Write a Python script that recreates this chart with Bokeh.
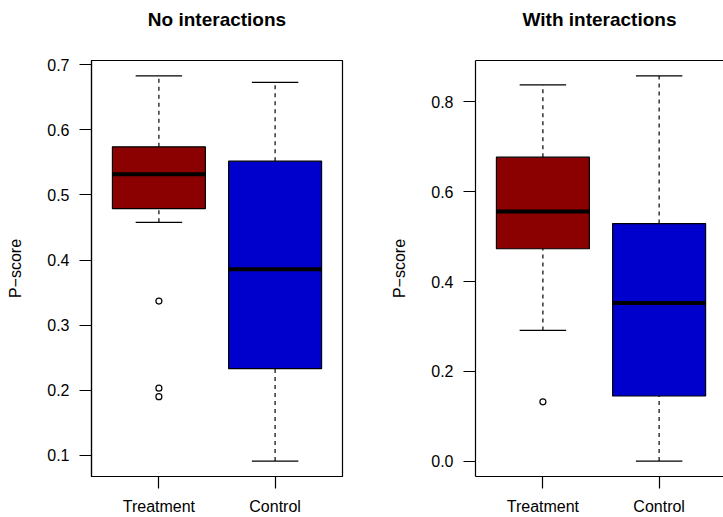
from bokeh.plotting import figure
from bokeh.layouts import row
from bokeh.models import FixedTicker, PrintfTickFormatter, LinearAxis, ColumnDataSource
from bokeh.embed import file_html
from bokeh.resources import INLINE

groups = ["Treatment", "Control"]
colors = ["#8B0000", "#0000CD"]

# No interactions
ni_lower = [0.458, 0.091]
ni_q1 = [0.479, 0.233]
ni_med = [0.532, 0.386]
ni_q3 = [0.574, 0.552]
ni_upper = [0.683, 0.673]
ni_out_group = ["Treatment", "Treatment", "Treatment"]
ni_out_val = [0.337, 0.203, 0.190]
ni_ticks = [0.1, 0.2, 0.3, 0.4, 0.5, 0.6, 0.7]

# With interactions
wi_lower = [0.291, 0.000]
wi_q1 = [0.473, 0.145]
wi_med = [0.556, 0.352]
wi_q3 = [0.677, 0.529]
wi_upper = [0.838, 0.858]
wi_out_group = ["Treatment"]
wi_out_val = [0.132]
wi_ticks = [0.0, 0.2, 0.4, 0.6, 0.8]

FONT = "Liberation Sans"


def make_panel(title, lower, q1, med, q3, upper, out_g, out_v, ticks,
               width, min_left, min_right, x_end, right_border):
    allv = lower + upper + out_v
    lo, hi = min(allv), max(allv)
    pad = 0.04 * (hi - lo)
    p = figure(width=width, height=517, output_backend="svg", toolbar_location=None,
               x_range=(0.42, x_end), y_range=(lo - pad, hi + pad),
               min_border_left=min_left, min_border_right=min_right,
               min_border_top=0, min_border_bottom=40, title=title + "\n")
    p.title.align = "center"
    p.title.vertical_align = "top"
    p.title.text_font = FONT
    p.title.text_font_size = "19px"
    p.title.text_font_style = "bold"
    p.title.text_color = "black"
    p.title.standoff = 16
    p.xgrid.visible = False
    p.ygrid.visible = False
    p.background_fill_color = "white"
    p.border_fill_color = "white"

    xs = [groups.index(g) + 1 for g in groups]
    src = ColumnDataSource(dict(x=xs, lower=lower, q1=q1, med=med, q3=q3, upper=upper,
                                color=colors,
                                sl=[x - 0.2 for x in xs], sr=[x + 0.2 for x in xs],
                                bl=[x - 0.4 for x in xs], br=[x + 0.4 for x in xs]))
    # whiskers
    p.segment(x0="x", y0="q3", x1="x", y1="upper", source=src, line_color="black",
              line_width=1.2, line_dash="4 4")
    p.segment(x0="x", y0="lower", x1="x", y1="q1", source=src, line_color="black",
              line_width=1.2, line_dash="4 4")
    # staples
    p.segment(x0="sl", y0="upper", x1="sr", y1="upper", source=src, line_color="black", line_width=1.2)
    p.segment(x0="sl", y0="lower", x1="sr", y1="lower", source=src, line_color="black", line_width=1.2)
    # boxes
    p.quad(left="bl", right="br", bottom="q1", top="q3", source=src,
           fill_color="color", line_color="black", line_width=1.2)
    # medians
    p.segment(x0="bl", y0="med", x1="br", y1="med", source=src, line_color="black", line_width=4)
    # outliers
    ox = [groups.index(g) + 1 for g in out_g]
    p.scatter(ox, out_v, marker="circle", size=6, fill_color=None, line_color="black", line_width=1.2)

    # axes
    xa = p.xaxis[0]
    ya = p.yaxis[0]
    xa.ticker = FixedTicker(ticks=xs)
    xa.major_label_overrides = {x: g for x, g in zip(xs, groups)}
    ya.ticker = FixedTicker(ticks=ticks)
    ya.formatter = PrintfTickFormatter(format="%.1f")
    ya.axis_label = "P\u2212score"
    for ax in (xa, ya):
        ax.axis_line_color = "black"
        ax.axis_line_width = 1.2
        ax.major_tick_line_color = "black"
        ax.major_tick_line_width = 1.2
        ax.major_tick_in = 0
        ax.major_tick_out = 12
        ax.minor_tick_line_color = None
        ax.major_label_text_font = FONT
        ax.major_label_text_font_size = "16px"
        ax.major_label_text_color = "black"
        ax.axis_label_text_font = FONT
        ax.axis_label_text_font_size = "16px"
        ax.axis_label_text_font_style = "normal"
        ax.axis_label_text_color = "black"
    ya.major_label_standoff = 10
    ya.axis_label_standoff = 20
    xa.major_label_standoff = 9

    if right_border:
        p.outline_line_color = "black"
        p.outline_line_width = 1.2
    else:
        p.outline_line_color = None
        top = LinearAxis(ticker=FixedTicker(ticks=[]), major_label_text_font_size="0px",
                         major_label_standoff=0, major_tick_out=0, major_tick_in=0,
                         axis_line_color="black", axis_line_width=1.2,
                         major_tick_line_color=None, minor_tick_line_color=None)
        p.add_layout(top, "above")
    return p


p1 = make_panel("No interactions", ni_lower, ni_q1, ni_med, ni_q3, ni_upper,
                ni_out_group, ni_out_val, ni_ticks, 360, 91, 18, 2.58, True)
p2 = make_panel("With interactions", wi_lower, wi_q1, wi_med, wi_q3, wi_upper,
                wi_out_group, wi_out_val, wi_ticks, 363, 115, 0, 2.554, False)

layout = row(p1, p2)
open("out.html", "w").write(file_html(layout, INLINE))
